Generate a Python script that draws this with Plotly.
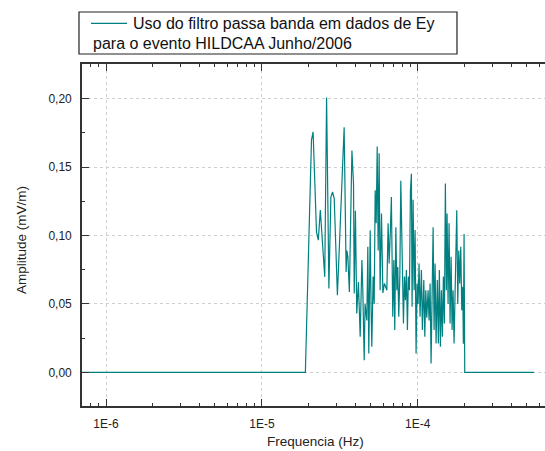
import plotly.graph_objects as go

# ---- data (frequency in Hz, amplitude in mV/m) ----
freq = [7.02e-7, 1.90e-5, 2.08e-5, 2.13e-5, 2.24e-5, 2.30e-5, 2.37e-5, 2.53e-5, 2.60e-5,
        2.69e-5, 2.77e-5, 2.84e-5, 2.91e-5, 3.05e-5, 3.37e-5, 3.47e-5, 3.51e-5, 3.56e-5,
        3.64e-5, 3.78e-5, 3.87e-5, 3.91e-5, 3.98e-5, 4.06e-5, 4.16e-5, 4.27e-5, 4.38e-5,
        4.44e-5, 4.53e-5, 4.59e-5, 4.71e-5, 4.78e-5, 4.85e-5, 4.95e-5, 5.02e-5, 5.07e-5,
        5.17e-5, 5.25e-5, 5.33e-5, 5.41e-5, 5.49e-5, 5.57e-5, 5.65e-5, 5.73e-5, 5.85e-5,
        5.97e-5, 6.11e-5, 6.33e-5, 6.45e-5, 6.55e-5, 6.67e-5, 6.77e-5, 6.91e-5, 7.02e-5,
        7.12e-5, 7.23e-5, 7.34e-5, 7.44e-5, 7.55e-5, 7.67e-5, 7.78e-5, 7.93e-5, 8.09e-5,
        8.21e-5, 8.33e-5, 8.45e-5, 8.58e-5, 8.70e-5, 8.84e-5, 8.97e-5, 9.10e-5, 9.19e-5,
        9.33e-5, 9.47e-5, 9.61e-5, 9.75e-5, 9.90e-5, 1.004e-4, 1.019e-4, 1.034e-4, 1.055e-4,
        1.070e-4, 1.093e-4, 1.109e-4, 1.125e-4, 1.142e-4, 1.164e-4, 1.181e-4, 1.199e-4,
        1.217e-4, 1.235e-4, 1.254e-4, 1.272e-4, 1.291e-4, 1.310e-4, 1.335e-4, 1.355e-4,
        1.375e-4, 1.396e-4, 1.417e-4, 1.438e-4, 1.459e-4, 1.481e-4, 1.503e-4, 1.525e-4,
        1.541e-4, 1.564e-4, 1.587e-4, 1.611e-4, 1.635e-4, 1.660e-4, 1.684e-4, 1.709e-4,
        1.735e-4, 1.760e-4, 1.778e-4, 1.805e-4, 1.832e-4, 1.858e-4, 1.886e-4, 1.915e-4,
        1.943e-4, 1.960e-4, 1.981e-4, 2.001e-4, 5.567e-4]
amplitude = [0.0, 0.0, 0.1696, 0.1756, 0.1026, 0.0966, 0.1185, 0.0698, 0.2007,
             0.0613, 0.128, 0.1318, 0.127, 0.0564, 0.179, 0.0734, 0.089, 0.0844,
             0.0588, 0.162, 0.138, 0.0577, 0.118, 0.043, 0.066, 0.026, 0.082,
             0.060, 0.009, 0.050, 0.038, 0.0917, 0.0139, 0.1039, 0.0455, 0.0187,
             0.070, 0.050, 0.133, 0.109, 0.165, 0.089, 0.160, 0.060, 0.116,
             0.058, 0.065, 0.060, 0.109, 0.0796, 0.1039, 0.128, 0.0406, 0.082,
             0.031, 0.106, 0.060, 0.077, 0.0406, 0.070, 0.140, 0.077, 0.0358,
             0.070, 0.0528, 0.0747, 0.031, 0.070, 0.060, 0.133, 0.145, 0.048,
             0.126, 0.060, 0.104, 0.0139, 0.065, 0.050, 0.0796, 0.0406, 0.0747,
             0.031, 0.0674, 0.026, 0.060, 0.040, 0.060, 0.038, 0.065,
             0.0066, 0.070, 0.106, 0.031, 0.0796, 0.0212, 0.0674, 0.0212,
             0.0747, 0.0187, 0.060, 0.026, 0.070, 0.0358, 0.138, 0.060,
             0.116, 0.050, 0.109, 0.0358, 0.0844, 0.031, 0.060, 0.0212,
             0.070, 0.0917, 0.1185, 0.050, 0.089, 0.065, 0.0917, 0.0455,
             0.0625, 0.021, 0.101, 0.0, 0.0]

series_name = "Uso do filtro passa banda em dados de Ey"
series_name_line2 = "para o evento HILDCAA Junho/2006"
x_tick_vals = [1e-6, 1e-5, 1e-4]
x_tick_text = ["1E-6", "1E-5", "1E-4"]
x_minor_vals = [7e-7, 8e-7, 9e-7,
                2e-6, 3e-6, 4e-6, 5e-6, 6e-6, 7e-6, 8e-6, 9e-6,
                2e-5, 3e-5, 4e-5, 5e-5, 6e-5, 7e-5, 8e-5, 9e-5,
                2e-4, 3e-4, 4e-4, 5e-4, 6e-4]
x_title = "Frequencia (Hz)"
y_title = "Amplitude (mV/m)"

LINE = "#008080"
AXIS = "#333333"
GRID = "#cfcfcf"
FONT = "Arial, Liberation Sans, sans-serif"
TXT = "#222222"

fig = go.Figure()
fig.add_trace(go.Scatter(x=freq, y=amplitude, mode="lines", name=series_name,
                         line=dict(color=LINE, width=1.2), showlegend=False))

fig.update_layout(
    width=545, height=451,
    margin=dict(l=82, r=0, t=64, b=45, autoexpand=False),
    paper_bgcolor="white", plot_bgcolor="white",
    separators=",.",
    font=dict(family=FONT, color=TXT, size=12),
)

fig.update_xaxes(
    type="log", range=[-6.154, -3.184], automargin=False,
    tickvals=x_tick_vals, ticktext=x_tick_text,
    ticks="inside", ticklen=7, tickwidth=1.3, tickcolor=AXIS,
    ticklabelstandoff=6,
    minor=dict(tickvals=x_minor_vals, ticks="inside", ticklen=3.5, tickwidth=1.2,
               tickcolor=AXIS, showgrid=False),
    showline=True, linecolor=AXIS, linewidth=1.6, mirror="allticks",
    showgrid=True, gridcolor=GRID, griddash="dot", gridwidth=1,
    zeroline=False,
    tickfont=dict(size=12, family=FONT, color=TXT),
)

fig.update_yaxes(
    range=[-0.0245, 0.2252], automargin=False,
    tick0=0, dtick=0.05, tickformat=".2f",
    ticks="inside", ticklen=7, tickwidth=1.3, tickcolor=AXIS,
    ticklabelstandoff=6,
    minor=dict(dtick=0.025, tick0=0, ticks="inside", ticklen=3.5, tickwidth=1.2,
               tickcolor=AXIS, showgrid=False),
    showline=True, linecolor=AXIS, linewidth=1.6, mirror=False,
    showgrid=True, gridcolor=GRID, griddash="dot", gridwidth=1,
    zeroline=False,
    tickfont=dict(size=12, family=FONT, color=TXT),
)

# axis titles
fig.add_annotation(xref="paper", yref="paper", x=0.5047, y=-0.1044,
                   xanchor="center", yanchor="middle", showarrow=False,
                   text=x_title, font=dict(size=13.5, family=FONT, color=TXT))
fig.add_annotation(xref="paper", yref="paper", x=-0.1296, y=0.4854,
                   xanchor="center", yanchor="middle", showarrow=False, textangle=-90,
                   text=y_title, font=dict(size=13.5, family=FONT, color=TXT))

# legend-style box (text wraps under the sample line, as in the original)
fig.add_shape(type="rect", xref="paper", yref="paper",
              x0=-0.0065, x1=0.8099, y0=1.0292, y1=1.152,
              line=dict(color="#222222", width=1.2), fillcolor="white", layer="above")
fig.add_shape(type="line", xref="paper", yref="paper",
              x0=0.0194, x1=0.0972, y0=1.119, y1=1.119,
              line=dict(color=LINE, width=1.3), layer="above")
fig.add_annotation(xref="paper", yref="paper", x=0.1069, y=1.119,
                   xanchor="left", yanchor="middle", showarrow=False,
                   text=series_name, font=dict(size=16, family=FONT, color="#111111"))
fig.add_annotation(xref="paper", yref="paper", x=0.0188, y=1.061,
                   xanchor="left", yanchor="middle", showarrow=False,
                   text=series_name_line2, font=dict(size=16, family=FONT, color="#111111"))

fig.write_html("out.html", config={"displayModeBar": False},
               post_script="document.body.style.margin='0px';document.body.style.overflow='hidden';")
